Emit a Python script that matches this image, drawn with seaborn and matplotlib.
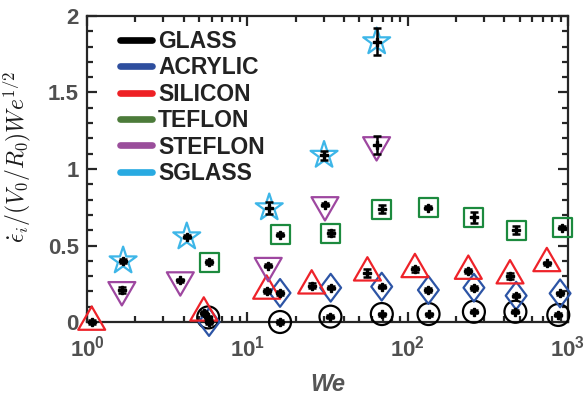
import numpy as np
import pandas as pd
import seaborn as sns
import matplotlib
matplotlib.use("Agg")
import matplotlib.pyplot as plt
from matplotlib.path import Path
from matplotlib.lines import Line2D
from matplotlib.ticker import FixedLocator, FuncFormatter, LogLocator, MultipleLocator

# ---- data: normalised impact strain rate vs Weber number ----
materials = ["GLASS", "ACRYLIC", "SILICON", "TEFLON", "STEFLON", "SGLASS"]

glass_we = [5.7, 16.0, 33.0, 69.0, 135.0, 259.0, 470.0, 870.0]
glass_y = [0.03, 0.0, 0.035, 0.052, 0.052, 0.067, 0.067, 0.046]
glass_err = [0.01, 0.01, 0.01, 0.01, 0.01, 0.01, 0.01, 0.01]

acrylic_we = [5.77, 16.0, 33.1, 68.9, 134.7, 259.0, 475.0, 893.0]
acrylic_y = [0.0, 0.19, 0.224, 0.231, 0.209, 0.224, 0.172, 0.187]
acrylic_err = [0.01, 0.012, 0.01, 0.012, 0.012, 0.012, 0.01, 0.01]

silicon_we = [1.07, 5.35, 13.2, 25.2, 56.1, 111.0, 239.0, 435.0, 738.0]
silicon_y = [0.0, 0.06, 0.203, 0.237, 0.322, 0.344, 0.333, 0.303, 0.383]
silicon_err = [0.01, 0.015, 0.015, 0.015, 0.025, 0.015, 0.015, 0.02, 0.01]

teflon_we = [5.8, 16.0, 33.1, 68.9, 134.7, 259.0, 475.0, 923.0]
teflon_y = [0.392, 0.569, 0.58, 0.738, 0.747, 0.684, 0.601, 0.616]
teflon_err = [0.01, 0.01, 0.02, 0.025, 0.01, 0.035, 0.025, 0.01]

steflon_we = [1.65, 3.82, 13.5, 30.5, 64.0]
steflon_y = [0.21, 0.274, 0.368, 0.765, 1.157]
steflon_err = [0.02, 0.01, 0.01, 0.01, 0.057]

sglass_we = [1.68, 4.19, 13.7, 30.1, 64.1]
sglass_y = [0.40, 0.557, 0.747, 1.09, 1.832]
sglass_err = [0.015, 0.01, 0.04, 0.03, 0.087]

# ---- styling ----
legend_colors = ["#000000", "#2E4E9E", "#EE2024", "#4C7B3A", "#9A4E9B", "#29AAE1"]
marker_colors = ["#000000", "#2C54A5", "#EE2229", "#1C8A3E", "#9E47A0", "#3DB6E8"]

tri_up = Path([(0, 1.1547), (-1, -0.5774), (1, -0.5774), (0, 1.1547)],
              [Path.MOVETO, Path.LINETO, Path.LINETO, Path.CLOSEPOLY])
tri_down = Path([(0, -1.1547), (-1, 0.5774), (1, 0.5774), (0, -1.1547)],
                [Path.MOVETO, Path.LINETO, Path.LINETO, Path.CLOSEPOLY])
diamond = Path([(0, 1), (0.75, 0), (0, -1), (-0.75, 0), (0, 1)],
               [Path.MOVETO, Path.LINETO, Path.LINETO, Path.LINETO, Path.CLOSEPOLY])

markers = ["o", diamond, tri_up, "s", tri_down, "*"]
marker_sizes = [15.8, 20.0, 22.4, 13.7, 22.4, 20.4]

series = [
    (glass_we, glass_y, glass_err),
    (acrylic_we, acrylic_y, acrylic_err),
    (silicon_we, silicon_y, silicon_err),
    (teflon_we, teflon_y, teflon_err),
    (steflon_we, steflon_y, steflon_err),
    (sglass_we, sglass_y, sglass_err),
]

frames = []
for name, (we, y, err) in zip(materials, series):
    frames.append(pd.DataFrame({"We": we, "rate": y, "err": err, "material": name}))
df = pd.concat(frames, ignore_index=True)

sns.set_theme(style="ticks")
plt.rcParams["font.family"] = ["Liberation Sans", "DejaVu Sans"]
plt.rcParams["font.weight"] = "bold"
plt.rcParams["mathtext.fontset"] = "custom"
plt.rcParams["mathtext.rm"] = "Liberation Sans:bold"
plt.rcParams["mathtext.bf"] = "Liberation Sans:bold"
plt.rcParams["mathtext.it"] = "Liberation Sans:bold:italic"

fig = plt.figure(figsize=(5.87, 3.95), dpi=100)
ax = fig.add_axes([0.1482, 0.1848, 0.8194, 0.7747])

# open markers for each material
for i, name in enumerate(materials):
    sub = df[df["material"] == name]
    sns.scatterplot(data=sub, x="We", y="rate", ax=ax, marker=markers[i],
                    s=marker_sizes[i] ** 2, facecolor="none",
                    edgecolor=marker_colors[i], linewidth=1.6,
                    legend=False, zorder=3 + i * 0.1, clip_on=False)

# measured values with error bars
ax.errorbar(df["We"], df["rate"], yerr=df["err"], fmt="P", color="black",
            markersize=5.5, elinewidth=1.8, capsize=3.2, capthick=1.8,
            zorder=5, clip_on=False)

ax.set_xscale("log")
ax.set_xlim(1, 1000)
ax.set_ylim(0, 2)

ax.xaxis.set_major_locator(FixedLocator([1, 10, 100, 1000]))
ax.xaxis.set_minor_locator(LogLocator(base=10, subs=np.arange(2, 10)))
ax.xaxis.set_major_formatter(FuncFormatter(
    lambda v, p: r"$\mathregular{10^{%d}}$" % int(round(np.log10(v)))))
ax.yaxis.set_major_locator(FixedLocator([0, 0.5, 1, 1.5, 2]))
ax.yaxis.set_minor_locator(MultipleLocator(0.1))
ax.yaxis.set_major_formatter(FuncFormatter(lambda v, p: "%g" % v))

spine_color = "#262626"
for s in ax.spines.values():
    s.set_visible(True)
    s.set_linewidth(1.6)
    s.set_color(spine_color)

ax.tick_params(which="both", direction="in", top=True, right=True,
               color=spine_color, width=1.6)
ax.tick_params(which="major", length=7, labelsize=16, labelcolor="#505050")
ax.tick_params(axis="y", which="major", pad=6)
ax.tick_params(axis="x", which="major", pad=10)
ax.tick_params(which="minor", length=4)

ax.set_xlabel("We", fontsize=17, fontweight="bold", fontstyle="italic",
              color="#555555", labelpad=8)
ax.set_ylabel(r"$\dot{\epsilon}_i/(V_0/R_0)We^{1/2}$", fontsize=17,
              color="#1a1a1a", math_fontfamily="cm")
ax.yaxis.set_label_coords(-0.112, 0.54)

handles = [Line2D([0], [0], color=c, lw=4.8) for c in legend_colors]
leg = ax.legend(handles, materials, loc="upper left",
                bbox_to_anchor=(0.05, 0.985), frameon=False,
                prop={"family": "Liberation Sans", "weight": "bold", "size": 16.5},
                handlelength=1.4, handletextpad=0.25, labelspacing=0.15,
                borderaxespad=0.0)
for t in leg.get_texts():
    t.set_color("#222222")

fig.savefig("out.png", dpi=100)
